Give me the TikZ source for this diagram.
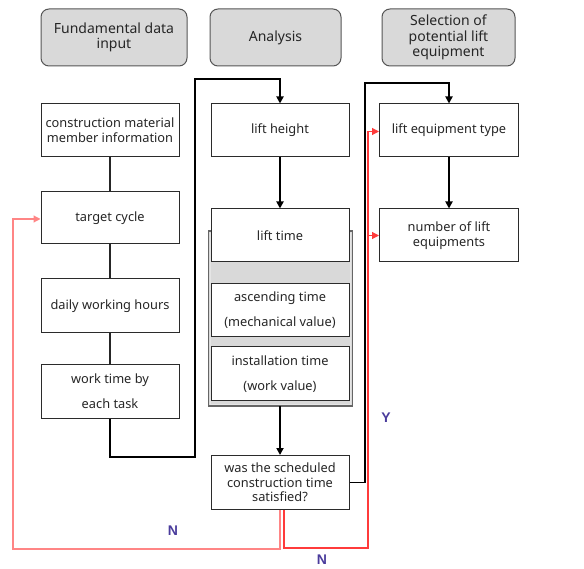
\documentclass[tikz,border=0pt]{standalone}
\usepackage{fontspec}
\setmainfont{Noto Sans}
\newfontfamily\tagfont{Liberation Sans}
\usetikzlibrary{arrows.meta}
\definecolor{hdrfill}{HTML}{D9D9D9}
\definecolor{boxline}{HTML}{2B2B2B}
\definecolor{lblue}{HTML}{4A3C9C}
\definecolor{lightred}{HTML}{FF8585}
\definecolor{strongred}{HTML}{FF3B3B}
\tikzset{
  x=1pt, y=-1pt,
  header/.style={draw=boxline!80, line width=1pt, fill=hdrfill, rounded corners=8pt,
    align=center, inner sep=0pt, font=\fontsize{14}{15.5}\selectfont, text=black!85},
  stepbox/.style={draw=boxline, line width=1pt, fill=white, align=center, inner sep=0pt,
    minimum width=138pt, font=\fontsize{12.8}{15}\selectfont, text=black!85},
  conn/.style={line width=1.8pt, draw=black, -{Triangle[length=7pt,width=7pt]}},
  plainconn/.style={line width=1.6pt, draw=black!85},
  noloop/.style={line width=1.2pt, draw=lightred, -{Triangle[length=7pt,width=7pt]}, color=lightred},
  yesloop/.style={line width=1.2pt, draw=strongred, -{Triangle[length=7pt,width=7pt]}, color=strongred},
  tag/.style={font=\tagfont\bfseries\fontsize{14}{15}\selectfont, text=lblue}
}
\begin{document}
\begin{tikzpicture}
\useasboundingbox (0,0) rectangle (584,569);

% column headers
\node[header, minimum width=146pt, minimum height=57pt] (hdrA) at (114,37.5) {Fundamental data\\input};
\node[header, minimum width=131pt, minimum height=57pt] (hdrB) at (275.5,37.5) {Analysis};
\node[header, minimum width=133pt, minimum height=57pt] (hdrC) at (448.5,37.5)
  {\fontsize{14}{15}\selectfont Selection of\\potential lift\\equipment};

% fundamental data column
\node[stepbox, minimum height=53pt] (cm) at (110,130.5) {construction material\\member information};
\node[stepbox, minimum height=52pt] (tc) at (110,218) {target cycle};
\node[stepbox, minimum height=54pt] (dwh) at (110,306) {daily working hours};
\node[stepbox, minimum height=53pt] (wt) at (110,391.5) {work time by\\[10pt]each task};

% analysis column: grouped lift time components
\path[fill=hdrfill, draw=black!60, line width=1.2pt] (208.3,231) rectangle (352.3,406);
\draw[white!80!gray, line width=0.6pt] (210.3,233) rectangle (350.3,404);
\node[stepbox, minimum height=53pt] (lh) at (280,130.5) {lift height};
\node[stepbox, minimum height=53pt] (lt) at (280,235.5) {lift time};
\node[stepbox, minimum height=53pt] (at) at (280,310.5) {ascending time\\[10pt](mechanical value)};
\node[stepbox, minimum height=54pt] (it) at (280,373.7) {installation time\\[10pt](work value)};
\coordinate (grp) at (280,406);
\node[stepbox, minimum height=54pt, font=\fontsize{12.8}{14.5}\selectfont] (ws) at (280,482.5)
  {was the scheduled\\construction time\\satisfied?};

% equipment column
\node[stepbox, minimum width=139pt, minimum height=53pt] (let) at (449,130.5) {lift equipment type};
\node[stepbox, minimum width=139pt, minimum height=53pt] (nl) at (449,235.5) {number of lift\\equipments};

% plain links in the input column
\draw[plainconn] (cm) -- (tc);
\draw[plainconn] (tc) -- (dwh);
\draw[plainconn] (dwh) -- (wt);

% main flow
\draw[conn] (wt.south) -- (110,457) -- (195,457) -- (195,79) -- (280,79) -- (lh.north);
\draw[conn] (lh) -- (lt);
\draw[conn] (grp) -- (ws.north);
\draw[conn] (ws.east) -- (365,482.5) -- (365,83) -- (449,83) -- (let.north);
\draw[conn] (let) -- (nl);

% feedback loops
\draw[noloop] (ws.south) -- (280,549) -- (13,549) -- (13,219) -- (tc.west |- 0,219);
\draw[yesloop] ([xshift=4pt]ws.south) -- (284,548) -- (368,548) -- (368,131.5) -- (let.west |- 0,131.5);
\draw[yesloop] (368,235.5) -- (nl.west);

% branch labels
\node[tag] (n1) at (173,531) {N};
\node[tag] (y1) at (386,418) {Y};
\node[tag] (n2) at (322,560) {N};
\end{tikzpicture}
\end{document}
